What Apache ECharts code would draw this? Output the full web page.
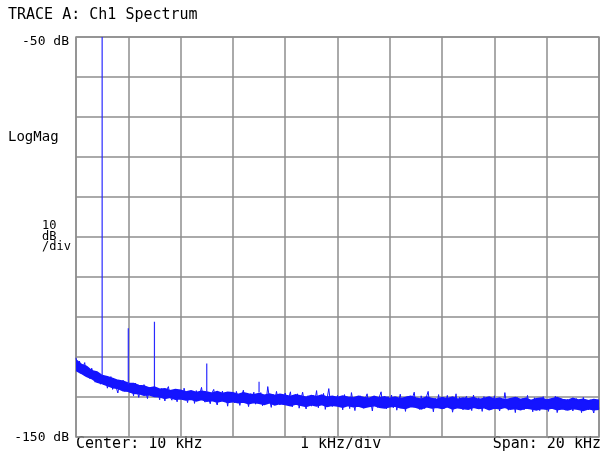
<!DOCTYPE html>
<html><head><meta charset="utf-8">
<script src="https://cdn.jsdelivr.net/npm/echarts@6/dist/echarts.min.js"></script>
<style>html,body{margin:0;padding:0;background:#fff}#c{width:602px;height:454px}</style>
</head><body><div id="c"></div>
<script>
// Span in kHz; noise trace (dB), 301 points, 15 points per kHz
const spanStart = 0, spanEnd = 20;
const yTickLabels = {top: '-50 dB', bottom: '-150 dB'};
const noiseTrace = [
-130.2,-132.8,-131.0,-133.9,-132.6,-131.4,-134.7,-133.1,-135.4,-132.8,-134.2,-136.3,-133.9,-135.1,-136.8,
-134.6,-136.9,-135.3,-137.8,-136.2,-134.9,-138.1,-136.7,-137.5,-139.0,-136.4,-137.9,-135.8,-138.6,-137.2,
-136.8,-138.9,-137.4,-139.7,-136.5,-138.2,-140.1,-137.8,-139.3,-136.9,-138.7,-140.4,-137.6,-139.1,-138.0,
-137.3,-139.8,-138.6,-140.7,-137.9,-139.4,-141.0,-138.2,-137.4,-139.9,-140.8,-138.5,-139.6,-141.2,-138.3,
-138.9,-140.6,-137.8,-139.5,-141.4,-138.7,-140.2,-139.1,-141.6,-138.4,-140.9,-139.3,-137.6,-140.5,-141.3,
-138.8,-140.3,-141.7,-139.0,-138.1,-140.8,-142.0,-139.4,-140.6,-138.5,-141.2,-139.8,-142.3,-138.9,-140.4,
-139.1,-141.5,-138.6,-140.2,-142.1,-139.7,-138.3,-141.0,-140.4,-142.4,-139.2,-140.9,-138.8,-141.8,-139.5,
-140.7,-138.9,-142.2,-139.6,-141.3,-137.4,-140.5,-142.6,-139.3,-141.1,-138.6,-140.8,-142.0,-139.4,-141.5,
-139.0,-141.9,-140.3,-138.7,-142.5,-140.1,-141.6,-139.2,-142.8,-140.6,-138.8,-141.4,-143.0,-139.7,-140.9,
-142.3,-139.5,-141.0,-138.4,-142.7,-140.2,-141.8,-139.1,-143.1,-140.5,-137.9,-141.6,-142.4,-139.8,-141.2,
-139.6,-142.5,-140.8,-143.2,-139.4,-141.7,-140.2,-142.9,-138.9,-141.3,-143.4,-140.1,-142.0,-139.7,-141.5,
-142.8,-140.3,-139.2,-142.1,-141.0,-143.5,-139.8,-141.4,-142.6,-140.0,-138.7,-142.3,-141.1,-143.0,-139.9,
-141.6,-139.5,-142.7,-140.4,-143.3,-141.2,-139.3,-142.0,-140.7,-143.6,-139.9,-141.8,-142.5,-140.2,-138.8,
-142.2,-140.6,-143.1,-139.7,-141.4,-142.9,-140.0,-138.6,-142.4,-141.0,-143.7,-140.3,-141.9,-139.4,-142.6,
-140.5,-143.0,-141.3,-139.6,-142.2,-140.8,-143.8,-141.5,-139.2,-142.7,-140.1,-141.9,-143.2,-140.6,-139.8,
-142.5,-140.9,-143.4,-139.5,-141.7,-142.8,-140.2,-141.1,-143.6,-139.9,-142.3,-141.0,-140.4,-143.1,-141.6,
-139.7,-142.9,-141.2,-143.5,-140.3,-142.1,-138.9,-141.8,-143.3,-140.6,-142.4,-141.0,-143.9,-140.1,-141.7,
-142.6,-140.4,-143.2,-141.3,-139.6,-142.8,-141.5,-143.7,-140.2,-142.0,-140.8,-143.4,-141.1,-139.9,-142.5,
-141.0,-143.6,-140.5,-142.3,-141.4,-139.8,-143.9,-141.7,-140.3,-142.9,-141.2,-143.3,-140.6,-142.1,-140.9,
-143.5,-141.2,-140.4,-142.8,-141.6,-143.9,-140.1,-142.4,-141.0,-143.2,-140.7,-142.6,-144.0,-141.3,-142.1,
-142.8
];
// Dense-trace envelope (dB), 101 points, 5 per kHz
const bandHigh = [
-130.8,-131.9,-132.4,-133.5,-133.8,-134.7,-135.0,-135.4,-135.9,-136.1,
-136.6,-136.7,-137.2,-137.3,-137.8,-137.6,-138.1,-138.0,-138.5,-138.2,
-138.4,-138.8,-138.5,-138.9,-138.6,-138.8,-139.1,-138.7,-139.2,-138.9,
-139.0,-139.4,-139.0,-139.3,-139.5,-139.2,-139.6,-139.3,-139.7,-139.4,
-139.6,-139.9,-139.5,-139.8,-140.1,-139.7,-140.0,-139.6,-140.1,-139.9,
-140.2,-139.8,-140.1,-140.3,-139.9,-140.2,-140.4,-139.9,-140.3,-140.0,
-140.4,-140.1,-140.5,-140.2,-139.9,-140.3,-140.6,-140.1,-140.4,-140.7,
-140.2,-140.5,-140.1,-140.6,-140.3,-140.5,-140.2,-140.7,-140.4,-140.1,
-140.6,-140.3,-140.8,-140.5,-140.2,-140.7,-140.4,-140.9,-140.5,-140.3,
-140.8,-140.5,-140.2,-140.7,-140.9,-140.4,-140.8,-140.6,-141.0,-140.7,
-140.9
];
const bandLow = [
-133.3,-134.0,-134.8,-135.3,-136.2,-136.6,-137.1,-137.6,-137.8,-138.4,
-138.5,-139.0,-139.1,-139.5,-139.4,-139.8,-139.9,-140.3,-140.0,-140.5,
-140.4,-140.7,-140.5,-140.9,-140.6,-141.0,-140.8,-141.2,-140.9,-141.3,
-141.1,-141.4,-141.2,-141.6,-141.3,-141.5,-141.8,-141.4,-141.9,-141.6,
-141.8,-142.1,-141.7,-142.0,-142.3,-141.9,-142.2,-141.8,-142.3,-142.0,
-142.2,-142.5,-142.1,-142.4,-142.2,-142.6,-142.3,-142.1,-142.5,-142.7,
-142.4,-142.2,-142.6,-142.8,-142.3,-142.5,-142.9,-142.4,-142.7,-142.5,
-142.8,-142.4,-142.9,-142.6,-142.8,-143.0,-142.5,-142.8,-142.6,-143.1,
-142.7,-142.9,-142.5,-143.0,-142.8,-143.1,-142.7,-142.9,-143.2,-142.8,
-143.0,-142.7,-143.1,-142.9,-143.2,-142.8,-143.0,-143.3,-142.9,-143.1,
-143.0
];
// Discrete tones: frequency (kHz) and peak level (dB)
const toneFreqs = [1, 2, 3, 5, 7];
const tonePeaks = [-50, -122.8, -121.2, -131.6, -136.2];
const bottomTexts = ['Center: 10 kHz', '1 kHz/div', 'Span: 20 kHz'];
const sideTexts = ['LogMag', '10\ndB\n/div'];
const titleText = 'TRACE A: Ch1 Spectrum';

const n = noiseTrace.length;
const step = (spanEnd - spanStart) / (n - 1);
const pts = noiseTrace.map((v, i) => [spanStart + i * step, v]);
const bandStep = (spanEnd - spanStart) / (bandHigh.length - 1);
const blue = '#1414ff';
const toneSeries = toneFreqs.map((f, k) => {
  const idx = Math.round((f - spanStart) / step);
  const base = Math.max(noiseTrace[idx - 1], noiseTrace[idx], noiseTrace[idx + 1]);
  return {type: 'line', data: [[f, base], [f, tonePeaks[k]]], showSymbol: false, symbol: 'none',
    lineStyle: {color: '#2a2aff', width: 1.2}, silent: true};
});

const chart = echarts.init(document.getElementById('c'), null, {renderer: 'canvas'});
const mono = 'DejaVu Sans Mono';
const gridCol = '#8e8e8e';
chart.setOption({
  animation: false,
  grid: {left: 76, top: 37, width: 523, height: 400, show: true, borderColor: gridCol, borderWidth: 1.5},
  xAxis: {type: 'value', min: spanStart, max: spanEnd, interval: 2,
    axisLine: {show: false}, axisTick: {show: false}, axisLabel: {show: false},
    splitLine: {show: true, lineStyle: {color: gridCol, width: 1.5}}},
  yAxis: {type: 'value', min: -150, max: -50, interval: 10,
    axisLine: {show: false}, axisTick: {show: false},
    axisLabel: {show: true, margin: 7,
      formatter: v => v === -50 ? '{t|' + yTickLabels.top + '}' : (v === -150 ? '{b|' + yTickLabels.bottom + '}' : ''),
      rich: {
        t: {fontFamily: mono, fontSize: 13, color: '#000', padding: [9, 0, 0, 0]},
        b: {fontFamily: mono, fontSize: 13, color: '#000', padding: [2, 0, 0, 0]}
      }},
    splitLine: {show: true, lineStyle: {color: gridCol, width: 1.5}}},
  graphic: [
    {type: 'text', left: 8, top: 8, style: {text: titleText, font: '15px ' + mono, fill: '#000'}},
    {type: 'text', left: 8, top: 130, style: {text: sideTexts[0], font: '14px ' + mono, fill: '#000'}},
    {type: 'text', right: 602 - 71, top: 220, style: {text: sideTexts[1], font: '12px ' + mono, fill: '#000', align: 'right', lineHeight: 10.5}},
    {type: 'text', left: 76, top: 437, style: {text: bottomTexts[0], font: '15px ' + mono, fill: '#000'}},
    {type: 'text', left: 300, top: 437, style: {text: bottomTexts[1], font: '15px ' + mono, fill: '#000'}},
    {type: 'text', right: 1, top: 437, style: {text: bottomTexts[2], font: '15px ' + mono, fill: '#000'}}
  ],
  series: [
    {type: 'custom', data: [[0]], silent: true, clip: true,
      renderItem: (params, api) => {
        const up = bandHigh.map((v, j) => api.coord([spanStart + j * bandStep, v]));
        const lo = bandLow.map((v, j) => api.coord([spanStart + j * bandStep, v])).reverse();
        return {type: 'polygon', shape: {points: up.concat(lo)}, style: {fill: blue, stroke: blue, lineWidth: 2}};
      }},
    {type: 'line', data: pts, showSymbol: false, symbol: 'none',
      lineStyle: {color: blue, width: 1}, clip: true}
  ].concat(toneSeries)
});
</script></body></html>
